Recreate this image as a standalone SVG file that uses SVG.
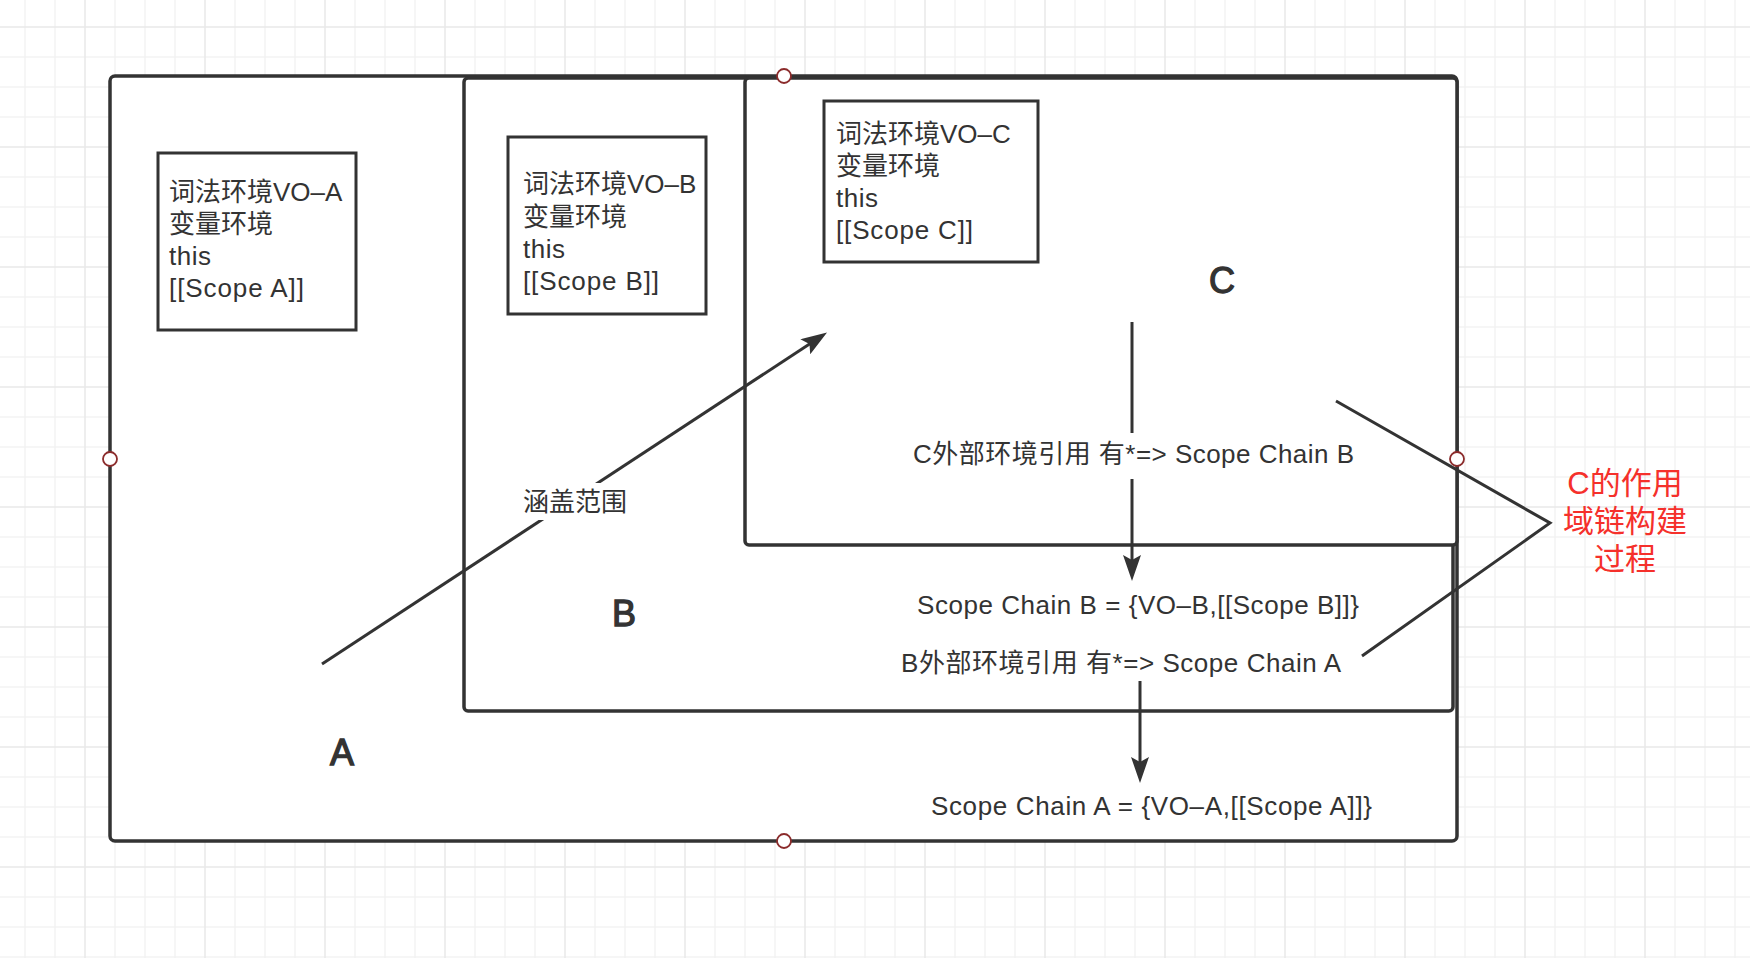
<svg xmlns="http://www.w3.org/2000/svg" width="1750" height="958" viewBox="0 0 1750 958">
<defs>
<pattern id="grid" patternUnits="userSpaceOnUse" x="84" y="26" width="120" height="120">
<path d="M31 0V120M61 0V120M91 0V120M0 31H120M0 61H120M0 91H120" stroke="#f3f3f3" stroke-width="1.5" fill="none"/>
<path d="M1 0V120M0 1H120" stroke="#e9e9e9" stroke-width="1.5" fill="none"/>
</pattern>
<marker id="ah" markerUnits="userSpaceOnUse" viewBox="0 0 26 18" refX="6" refY="9" markerWidth="26" markerHeight="18" orient="auto">
<path d="M0,0 L26,9 L0,18 L5,9 Z" fill="#333"/>
</marker>
</defs>
<style>
.box{fill:#fff;stroke:#333;stroke-width:3.5}
.inner{fill:#fff;stroke:#333;stroke-width:3}
.t{font-family:"Liberation Sans","Noto Sans CJK SC",sans-serif;font-size:26px;fill:#333}
.big{font-size:36px;text-anchor:middle;stroke:#333;stroke-width:1.3}
.red{font-size:31px;fill:#f5302b;text-anchor:middle}
.edge{stroke:#333;stroke-width:3;fill:none}
.bg{fill:#fff}
.pt{fill:#fff;stroke:#8b2b2b;stroke-width:1.8}
</style>
<rect width="1750" height="958" fill="#fff"/>
<rect width="1750" height="958" fill="url(#grid)"/>

<g id="scope-a">
<rect class="box" x="110" y="76" width="1347" height="765" rx="5"/>
<text class="t big" x="342" y="765">A</text>
</g>
<g id="scope-b">
<rect class="box" x="464" y="78" width="989" height="633" rx="4"/>
<text class="t big" x="624" y="626">B</text>
</g>
<g id="scope-c">
<rect class="box" x="745" y="78" width="712" height="467" rx="4"/>
<text class="t big" x="1222" y="293">C</text>
</g>

<g id="vo-a">
<rect class="inner" x="158" y="153" width="198" height="177"/>
<text class="t"><tspan x="169" y="201">词法环境VO–A</tspan><tspan x="169" y="233">变量环境</tspan><tspan x="169" y="265" textLength="42">this</tspan><tspan x="169" y="297" textLength="135">[[Scope A]]</tspan></text>
</g>
<g id="vo-b">
<rect class="inner" x="508" y="137" width="198" height="177"/>
<text class="t"><tspan x="523" y="193">词法环境VO–B</tspan><tspan x="523" y="226">变量环境</tspan><tspan x="523" y="258" textLength="42">this</tspan><tspan x="523" y="290" textLength="136">[[Scope B]]</tspan></text>
</g>
<g id="vo-c">
<rect class="inner" x="824" y="101" width="214" height="161"/>
<text class="t"><tspan x="836" y="143">词法环境VO–C</tspan><tspan x="836" y="175">变量环境</tspan><tspan x="836" y="207" textLength="42">this</tspan><tspan x="836" y="239" textLength="137">[[Scope C]]</tspan></text>
</g>

<g id="chain-b-text">
<text class="t" x="917" y="614" textLength="442">Scope Chain B = {VO–B,[[Scope B]]}</text>
</g>
<g id="b-outer-text">
<text class="t" x="901" y="672" textLength="440">B外部环境引用 有*=&gt; Scope Chain A</text>
</g>
<g id="chain-a-text">
<text class="t" x="931" y="815" textLength="441">Scope Chain A = {VO–A,[[Scope A]]}</text>
</g>

<g id="connectors">
<path class="edge" d="M322,664 L810.3,343.5" marker-end="url(#ah)"/>
<rect class="bg" x="521" y="483" width="106" height="37"/>
<text class="t" x="523" y="511">涵盖范围</text>
<path class="edge" d="M1132,322 V561" marker-end="url(#ah)"/>
<rect class="bg" x="911" y="433" width="446" height="46"/>
<text class="t" x="913" y="463" textLength="441">C外部环境引用 有*=&gt; Scope Chain B</text>
<path class="edge" d="M1140,681 V763" marker-end="url(#ah)"/>
<path class="edge" d="M1336,401 L1550,523 L1362,656"/>
</g>

<g id="note">
<text class="t red"><tspan x="1625" y="494">C的作用</tspan><tspan x="1625" y="532">域链构建</tspan><tspan x="1625" y="570">过程</tspan></text>
</g>

<g id="handles">
<circle class="pt" cx="784" cy="76" r="7"/>
<circle class="pt" cx="110" cy="459" r="7"/>
<circle class="pt" cx="784" cy="841" r="7"/>
<circle class="pt" cx="1457" cy="459" r="7"/>
</g>
</svg>
